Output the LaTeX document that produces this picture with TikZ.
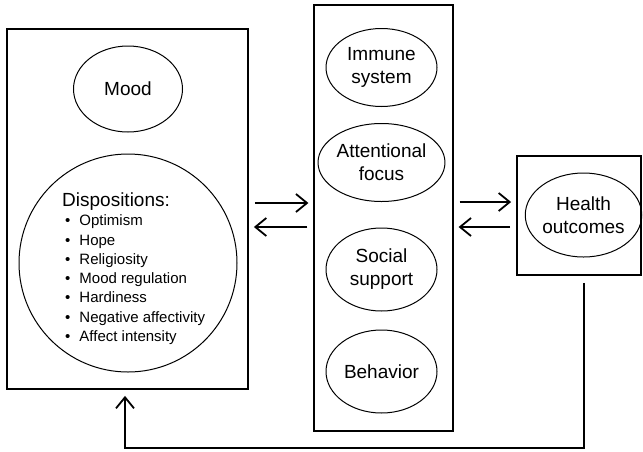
\documentclass[tikz,border=0pt]{standalone}
\usepackage{fontspec}
\setmainfont{Liberation Sans}
\usetikzlibrary{arrows.meta,shapes.geometric}
\begin{document}
\begin{tikzpicture}[x=1pt, y=-1pt,
    every node/.style={font=\fontsize{19}{23}\selectfont, align=center, inner sep=0pt},
    box/.style={draw, line width=1.8pt, rectangle},
    oval/.style={draw, line width=1pt, ellipse, minimum width=111pt, minimum height=78pt},
    arr/.style={line width=2pt, -{Straight Barb[length=11pt, width=18pt, line width=1.8pt]}},
    gap/.style={shorten <=6pt, shorten >=5pt}]
    \useasboundingbox (0,0) rectangle (643,451);
    % the three boxes
    \node[box, minimum width=241pt, minimum height=360pt] (leftbox) at (127.5,209) {};
    \node[box, line width=1.2pt, minimum width=139pt, minimum height=426pt] (midbox) at (383.5,218) {};
    \node[box, minimum width=124pt, minimum height=119pt] (rightbox) at (579,215.5) {};
    % left box contents
    \node[oval, minimum width=109pt, minimum height=86pt] (mood) at (128,89) {Mood};
    \node[draw, line width=1pt, circle, minimum size=218pt] (disp) at (128,263) {};
    \node[anchor=north west, font=\fontsize{15}{19.3}\selectfont] (displist) at (62,192.5) {%
        \begin{tabular}{@{\hspace{3pt}}l@{\hspace{9pt}}l@{}}
        \multicolumn{2}{@{}l@{}}{\fontsize{19}{23}\selectfont Dispositions:}\\
        \textbullet & Optimism\\
        \textbullet & Hope\\
        \textbullet & Religiosity\\
        \textbullet & Mood regulation\\
        \textbullet & Hardiness\\
        \textbullet & Negative affectivity\\
        \textbullet & Affect intensity
        \end{tabular}};
    % middle box contents
    \node[oval] (immune) at (381.5,67.5) {Immune\\system};
    \node[oval] (attention) at (381.5,162.5) {Attentional\\focus};
    \node[oval, minimum height=83pt] (social) at (381.5,269.5) {Social\\support};
    \node[oval, minimum height=83pt] (behavior) at (381.5,371.5) {Behavior};
    % right box contents
    \node[oval, minimum width=109pt, minimum height=84pt] (health) at (583.5,215) {Health\\outcomes};
    % two-way arrows
    \draw[arr, gap] (leftbox.east |- 0,203) -- (midbox.west |- 0,203);
    \draw[arr, gap] (midbox.west |- 0,227) -- (leftbox.east |- 0,227);
    \draw[arr, gap] (midbox.east |- 0,202) -- (rightbox.west |- 0,202);
    \draw[arr, gap] (rightbox.west |- 0,227) -- (midbox.east |- 0,227);
    % feedback loop
    \draw[arr, shorten <=7pt, shorten >=6pt] (rightbox.south -| 584,0) -- (584,448) -| (leftbox.south -| 125,0);
\end{tikzpicture}
\end{document}
